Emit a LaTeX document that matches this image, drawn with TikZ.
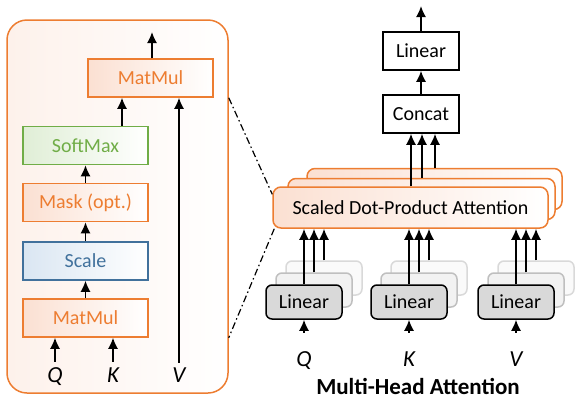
\documentclass[tikz,border=0pt]{standalone}
\usepackage{fontspec}
\setmainfont{Carlito}
\usetikzlibrary{arrows.meta}

\definecolor{attorange}{RGB}{237,125,49}
\definecolor{attgreen}{RGB}{112,173,71}
\definecolor{attblue}{RGB}{65,113,156}
\definecolor{pinkfill}{RGB}{251,224,210}
\definecolor{bluefill}{RGB}{218,230,242}
\definecolor{greenfill}{RGB}{224,238,214}

\begin{document}
\begin{tikzpicture}[x=1pt, y=-1pt,
  txt/.style={font=\fontsize{20}{24}\selectfont},
  sbox/.style={txt, draw, line width=1.5pt, minimum width=125pt, minimum height=38pt, inner sep=0pt},
  obox/.style={sbox, draw=attorange, text=attorange, left color=pinkfill, right color=white},
  gbox/.style={sbox, draw=attgreen, text=attgreen, left color=greenfill, right color=white},
  bbox/.style={sbox, draw=attblue, text=attblue, left color=bluefill, right color=white},
  wbox/.style={txt, draw, line width=1.5pt, fill=white, minimum width=76pt, minimum height=38pt, inner sep=0pt},
  abox/.style={txt, draw=attorange, line width=1.5pt, rounded corners=8pt, left color=pinkfill, right color=white, minimum height=41pt, inner sep=0pt},
  lin1/.style={txt, draw, line width=1.5pt, rounded corners=6pt, fill=gray!30, minimum width=76pt, minimum height=34pt, inner sep=0pt},
  lin2/.style={lin1, draw=gray!50, fill=gray!10},
  lin3/.style={lin1, draw=gray!30, fill=gray!4},
  lbl/.style={font=\fontsize{23}{26}\selectfont\itshape, inner sep=0pt, text height=14pt, text depth=0pt},
  arr/.style={line width=1.6pt, -{Latex[length=11pt,width=10pt]}},
  zoomline/.style={line width=1.2pt, dash pattern=on 7pt off 3pt on 1.5pt off 3pt}]

\useasboundingbox (0,0) rectangle (575,400);

% scaled dot-product attention, left panel
\node[draw=attorange, line width=1.5pt, rounded corners=20pt, left color=pinkfill!45, right color=white,
      minimum width=221pt, minimum height=373pt] (panel) at (117.5,206.5) {};

\node[obox] (mm2) at (150.5,78) {MatMul};
\node[gbox] (smax) at (85.5,145.5) {SoftMax};
\node[obox] (mask) at (85.5,202.5) {Mask (opt.)};
\node[bbox] (scale) at (85.5,261) {Scale};
\node[obox] (mm1) at (85.5,318) {MatMul};

\node[lbl] (q0) at (55,375) {Q};
\node[lbl] (k0) at (113,375) {K};
\node[lbl] (v0) at (179,375) {V};

\coordinate (s1) at ([xshift=36.5pt]smax.north);
\coordinate (out1) at (152,32);

\begin{scope}[arr]
\draw (mm1.north) -- (scale.south); %mm1-scale
\draw (scale.north) -- (mask.south); %scale-mask
\draw (mask.north) -- (smax.south); %mask-smax
\draw (s1) -- (s1 |- mm2.south); %smax-mm2
\draw (mm2.north -| out1) -- (out1);
\draw[shorten <=6pt] (q0.north) -- (q0.north |- mm1.south);
\draw[shorten <=6pt] (k0.north) -- (k0.north |- mm1.south);
\draw[shorten <=5pt] (v0.north) -- (v0.north |- mm2.south);
\end{scope}

% multi-head attention, right part
\node[wbox] (lin) at (421,51) {Linear};
\node[wbox] (cat) at (421,114) {Concat};

\node[abox, minimum width=255pt] (att3) at (434.5,189) {};
\node[abox, minimum width=267pt] (att2) at (421.5,199) {};
\node[abox, minimum width=275pt] (att1) at (410.5,207.5) {Scaled Dot-Product Attention};

\coordinate (c1) at ([xshift=-10pt]cat.south);
\coordinate (c2) at ([xshift=1pt]cat.south);
\coordinate (c3) at ([xshift=14pt]cat.south);
\coordinate (out2) at (421,6);

\begin{scope}[arr]
\draw (cat.north) -- (lin.south); %cat-lin
\draw (lin.north) -- (out2);
\draw (att1.north -| c1) -- (c1); %att1-cat
\draw (att2.north -| c2) -- (c2); %att2-cat
\draw (att3.north -| c3) -- (c3); %att3-cat
\end{scope}

\foreach \n/\t/\x in {q/Q/304, k/K/409, v/V/516} {
  \node[lin3] (\n3) at (\x+20,278) {};
  \node[lin2] (\n2) at (\x+10,290) {};
  \node[lin1] (\n1) at (\x,302) {Linear};
  \node[lbl] (\n0) at (\x,359) {\t};
  \begin{scope}[arr]
  \draw (\n1.north) -- (\n1.north |- att1.south);
  \draw (\n2.north) -- (\n2.north |- att1.south);
  \draw (\n3.north) -- (\n3.north |- att1.south);
  \draw[shorten <=19pt] (\n0.north) -- (\n1.south);
  \end{scope}
}

\node[font=\bfseries\fontsize{23}{28}\selectfont, inner sep=0pt, anchor=base] (title) at (418,394) {Multi-Head Attention};

% zoom lines
\draw[zoomline] (panel.east |- mm2.south) -- ([yshift=-8pt]att1.north west);
\draw[zoomline] ([xshift=2pt]att1.south west) -- (panel.east |- mm1.south);

\end{tikzpicture}
\end{document}
